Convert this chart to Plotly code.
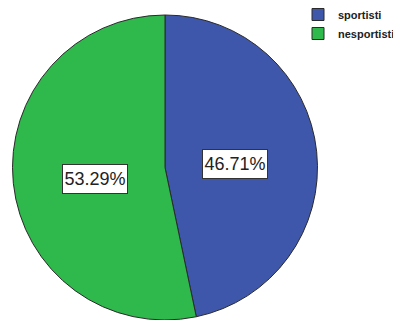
import math
import plotly.graph_objects as go

labels = ["sportisti", "nesportisti"]
values = [46.71, 53.29]
colors = ["#3f57ab", "#2fb84b"]

W, H = 393, 320
dom_x = [12 / W, 318 / W]
dom_y = [0.0, 1 - 15 / H]

fig = go.Figure(go.Pie(
    labels=labels, values=values, sort=False, direction="clockwise", rotation=0,
    marker=dict(colors=colors, line=dict(color="#2a2a2a", width=1)),
    textinfo="none", hoverinfo="label+percent",
    domain=dict(x=dom_x, y=dom_y),
))

# label positions derived from slice mid-angles
cx_px = (dom_x[0] + dom_x[1]) / 2 * W
cy_px = (1 - (dom_y[0] + dom_y[1]) / 2) * H
R = min((dom_x[1] - dom_x[0]) * W, (dom_y[1] - dom_y[0]) * H) / 2
total = sum(values)
start = 0.0
annotations = []
for lab, v in zip(labels, values):
    mid = (start + v / 2) / total * 2 * math.pi
    start += v
    f = 0.46
    px = cx_px + f * R * math.sin(mid)
    py = cy_px - f * R * math.cos(mid)
    annotations.append(dict(
        x=px / W, y=1 - py / H, xref="paper", yref="paper", yshift=-4,
        xanchor="center", yanchor="middle",
        text=f"{v / total * 100:.2f}%", showarrow=False,
        font=dict(family="Liberation Sans, Arial", size=18, color="#222"),
        width=62, height=26, align="center", valign="middle",
        bgcolor="white", bordercolor="#333", borderwidth=1, borderpad=1,
    ))

fig.update_layout(
    width=W, height=H, margin=dict(l=0, r=0, t=0, b=0, autoexpand=False),
    paper_bgcolor="white", plot_bgcolor="white",
    annotations=annotations,
    legend=dict(x=298 / W, y=1.0, xanchor="left", yanchor="top",
                font=dict(family="Liberation Sans, Arial", size=11, color="#222",
                          weight="bold"),
                itemwidth=30, tracegroupgap=0, bgcolor="rgba(0,0,0,0)"),
    showlegend=True,
)
fig.write_html("out.html")
